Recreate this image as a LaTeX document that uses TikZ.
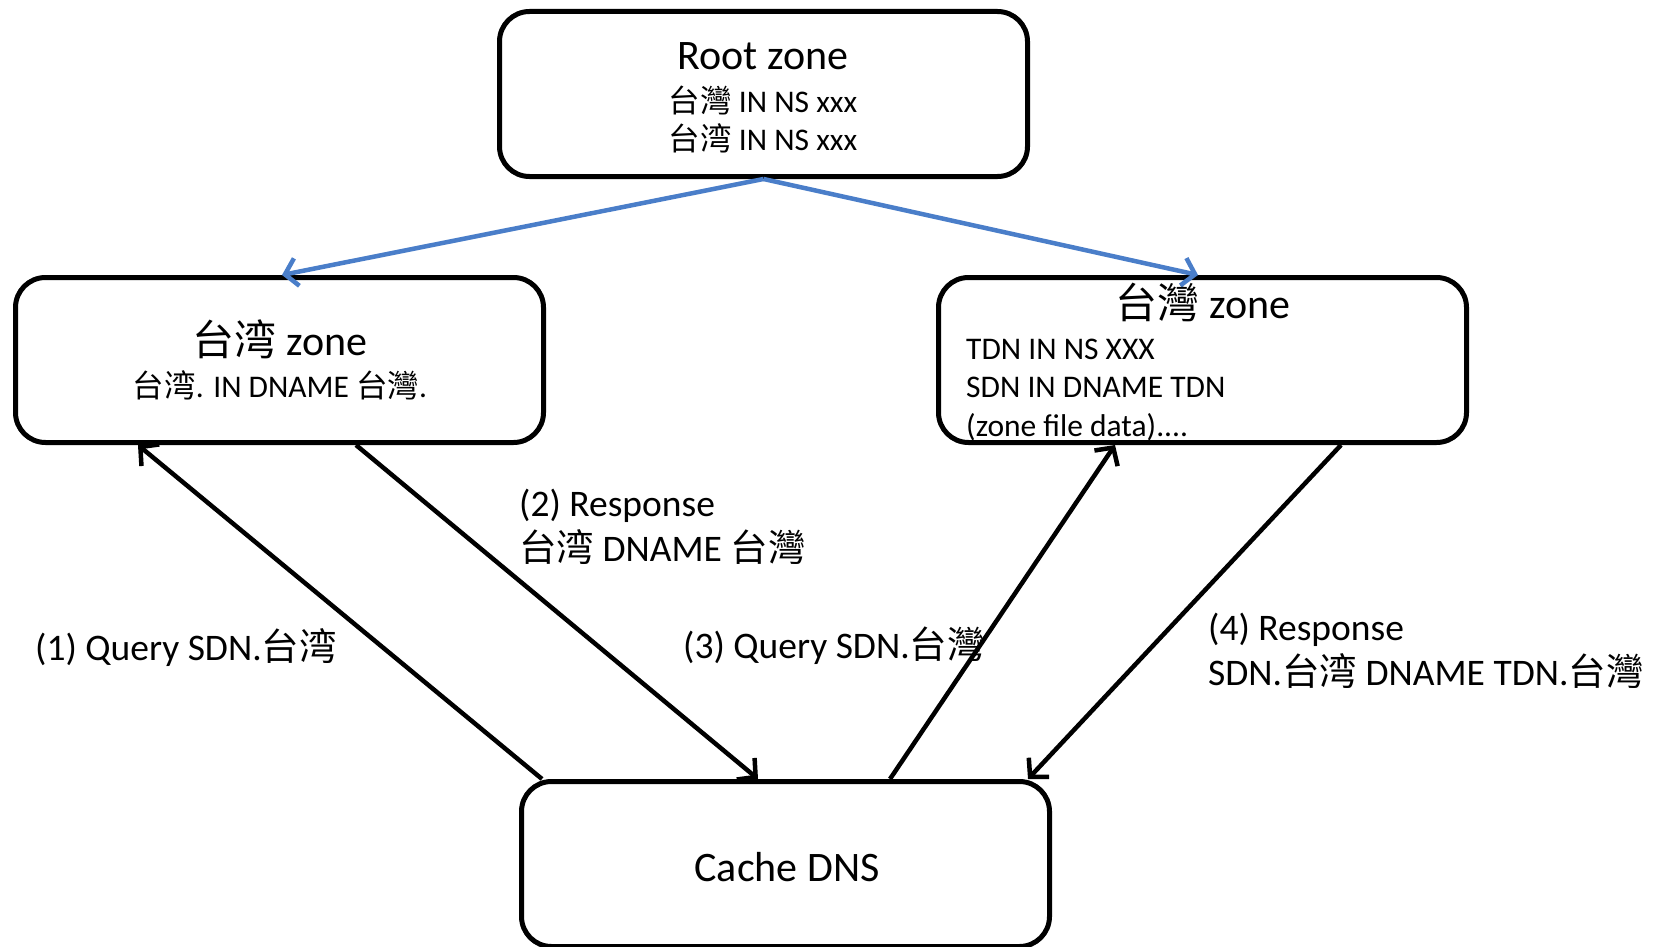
\documentclass[tikz,border=0pt]{standalone}
\usepackage{fontspec}
\setmainfont{Carlito}
\newfontfamily\cjk{Noto Sans CJK TC}
\usetikzlibrary{arrows.meta,calc}
\definecolor{blueln}{RGB}{74,126,201}
\tikzset{
  zonebox/.style={draw=black,line width=5pt,rounded corners=30pt,minimum width=528pt,minimum height=165pt,fill=white},
  blk/.style={line width=4.5pt,-{Straight Barb[length=13pt,width=28pt,line width=4.5pt]}},
  blu/.style={blueln,line width=4.5pt,-{Straight Barb[length=12pt,width=28pt,line width=4.5pt]}},
  ttl/.style={font=\fontsize{42}{46}\selectfont,inner sep=0pt,anchor=base},
  sml/.style={font=\fontsize{31.5}{37}\selectfont,inner sep=0pt},
  lbl/.style={font=\fontsize{37.5}{42}\selectfont,inner sep=0pt,anchor=base west},
}
\begin{document}
\begin{tikzpicture}[x=1pt,y=-1pt]
\useasboundingbox (0,0) rectangle (1660,947);
% boxes
\node[zonebox] (root) at (763.5,94) {};
\node[zonebox] (lzone) at (279.5,360) {};
\node[zonebox] (rzone) at (1202.5,360) {};
\node[zonebox] (cache) at (785.5,864) {};
% box texts
\node[ttl] (roott) at (763,70) {Root zone};
\node[sml,anchor=base] (root1) at (763,113) {{\cjk 台灣} IN NS xxx};
\node[sml,anchor=base] (root2) at (763,150) {{\cjk 台湾} IN NS xxx};
\node[ttl] (lt) at (280,355) {{\cjk 台湾} zone};
\node[sml,anchor=base] (l1) at (280,397) {{\cjk 台湾}. IN DNAME {\cjk 台灣}.};
\node[ttl] (rt) at (1203,318) {{\cjk 台灣} zone};
\node[sml,anchor=base west] (r1) at (966,359) {TDN IN NS XXX};
\node[sml,anchor=base west] (r2) at (966,397) {SDN IN DNAME TDN};
\node[sml,anchor=base west] (r3) at (966,436) {(zone file data)....};
\node[ttl] (ct) at (787,881) {Cache DNS};
% blue arrows
\draw[blu] (root.south) -- ([xshift=269pt]lzone.north west);
\draw[blu] (root.south) -- ([xshift=262pt]rzone.north west);
% black arrows
\draw[blk] ([xshift=23pt]cache.north west) -- ([xshift=125pt]lzone.south west);
\draw[blk] ([xshift=343pt]lzone.south west) -- ([xshift=239pt]cache.north west);
\draw[blk] ([xshift=371pt]cache.north west) -- ([xshift=179pt]rzone.south west);
\draw[blk] ([xshift=405pt]rzone.south west) -- ([xshift=509pt]cache.north west);
% labels
\node[lbl] (q1) at (35,660) {(1) Query SDN.{\cjk 台湾}};
\node[lbl] (a2a) at (519,516) {(2) Response};
\node[lbl] (a2b) at (519,561) {{\cjk 台湾} DNAME {\cjk 台灣}};
\node[lbl] (q3) at (683,658) {(3) Query SDN.{\cjk 台灣}};
\node[lbl] (a4a) at (1208,640) {(4) Response};
\node[lbl] (a4b) at (1208,685) {SDN.{\cjk 台湾} DNAME TDN.{\cjk 台灣}};
\end{tikzpicture}
\end{document}
